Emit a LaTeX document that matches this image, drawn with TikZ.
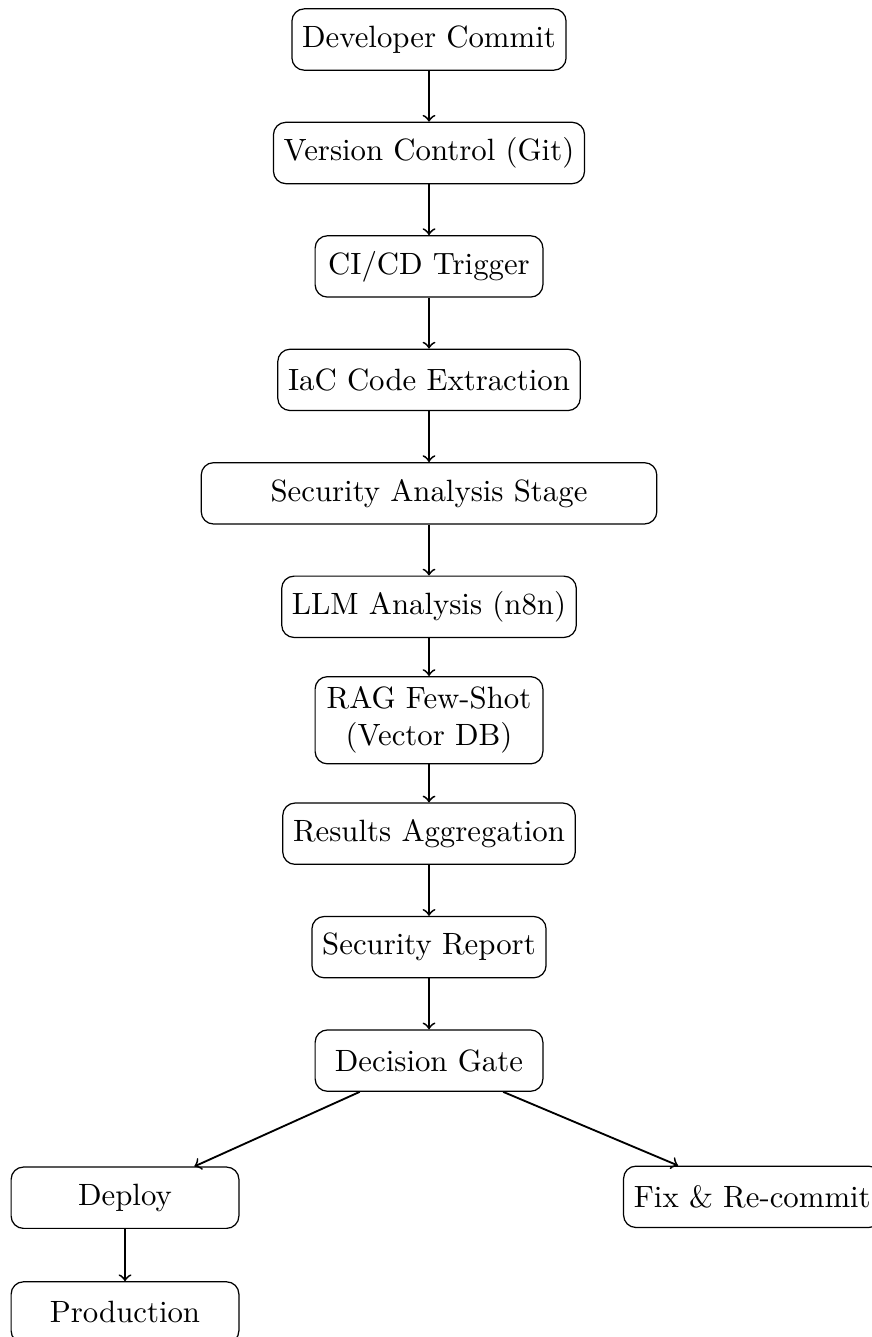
\documentclass[tikz,border=0pt]{standalone}
\usepackage{amsmath,amssymb}
\usepackage{tikz}

\begin{document}
\begin{tikzpicture}[
  stepbox/.style={draw,rounded corners=4pt,align=center,
    minimum width=2.6cm,minimum height=0.7cm},
  widebox/.style={stepbox,minimum width=5.2cm},
  flow/.style={->,semithick}]
\useasboundingbox (-4.897,0.451) rectangle (5.046,-14.81);
% main pipeline, one stage every 1.295cm
\node[stepbox] (commit) at (0,0) {Developer Commit};
\node[stepbox] (vcs) at (0,-1.295) {Version Control (Git)};
\node[stepbox] (trigger) at (0,-2.59) {CI/CD Trigger};
\node[stepbox] (extract) at (0,-3.885) {IaC Code Extraction};
\node[widebox] (analysis) at (0,-5.18) {Security Analysis Stage};
\node[stepbox] (llm) at (0,-6.475) {LLM Analysis (n8n)};
\node[stepbox] (rag) at (0,-7.77) {RAG Few-Shot\\(Vector DB)};
\node[stepbox] (aggregate) at (0,-9.065) {Results Aggregation};
\node[stepbox] (report) at (0,-10.36) {Security Report};
\node[stepbox] (gate) at (0,-11.655) {Decision Gate};
% outcomes of the gate
\node[stepbox] (deploy) at (-3.47,-13.22) {Deploy};
\node[stepbox] (prod) at (-3.47,-14.53) {Production};
\node[stepbox] (fix) at (3.69,-13.21) {Fix \& Re-commit};
\draw[flow] (commit) -- (vcs);
\draw[flow] (vcs) -- (trigger);
\draw[flow] (trigger) -- (extract);
\draw[flow] (extract) -- (analysis);
\draw[flow] (analysis) -- (llm);
\draw[flow] (llm) -- (rag);
\draw[flow] (rag) -- (aggregate);
\draw[flow] (aggregate) -- (report);
\draw[flow] (report) -- (gate);
\draw[flow] (gate) -- (deploy);
\draw[flow] (gate) -- (fix);
\draw[flow] (deploy) -- (prod);
\end{tikzpicture}
\end{document}
